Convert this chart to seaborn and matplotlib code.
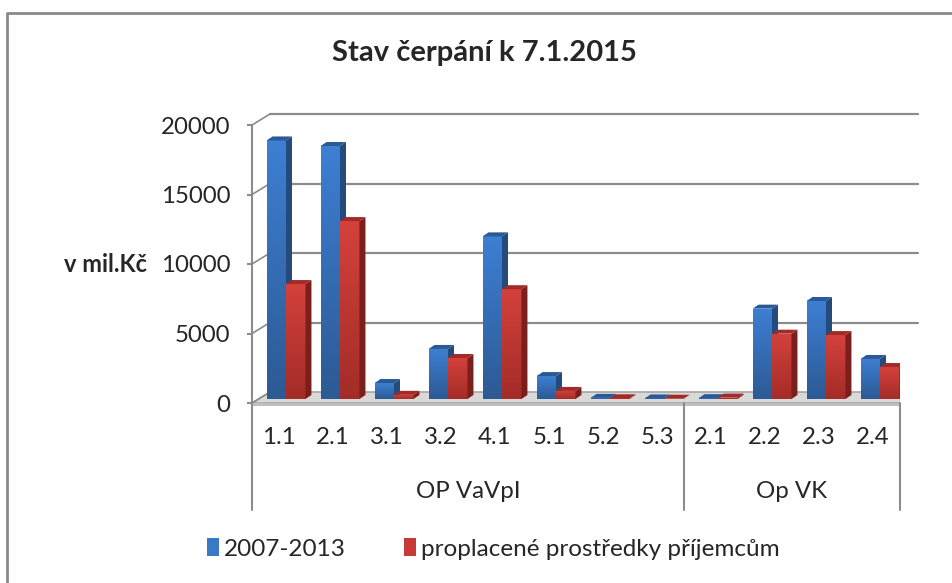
import numpy as np
import pandas as pd
import matplotlib as mpl
import matplotlib.pyplot as plt
import seaborn as sns
from matplotlib.patches import Polygon, Patch
from matplotlib.transforms import offset_copy, IdentityTransform, blended_transform_factory
from matplotlib.colors import LinearSegmentedColormap

# data
groups = ['OP VaVpI'] * 8 + ['Op VK'] * 4
codes = ['1.1', '2.1', '3.1', '3.2', '4.1', '5.1', '5.2', '5.3', '2.1', '2.2', '2.3', '2.4']
total_2007_2013 = [18600, 18200, 1150, 3600, 11700, 1650, 80, 40, 60, 6500, 7050, 2880]
proplaceno = [8270, 12800, 300, 2950, 7900, 580, 50, 20, 100, 4700, 4600, 2300]
series_names = ['2007-2013', 'proplacené prostředky příjemcům']

keys = [g + ' ' + c for g, c in zip(groups, codes)]
df = pd.DataFrame({
    'key': keys * 2,
    'value': total_2007_2013 + proplaceno,
    'series': [series_names[0]] * 12 + [series_names[1]] * 12,
})

sns.set_theme(style='white')
plt.rcParams['font.family'] = ['Lato', 'DejaVu Sans']

fig = plt.figure(figsize=(9.52, 5.83), dpi=100)
ax = fig.add_axes([252 / 952, 1 - 403 / 583, 648 / 952, 278 / 583])

blue = '#3a78c8'
red = '#c83a35'
sns.barplot(data=df, x='key', y='value', hue='series', order=keys,
            palette=[blue, red], width=0.72, saturation=1, legend=False, ax=ax)

ax.set_xlim(-0.5, 11.5)
ax.set_ylim(0, 20000)
for s in ax.spines.values():
    s.set_visible(False)
ax.set_xlabel('')
ax.set_ylabel('')

fs = 17.3
grid_c = '#8c8c8c'
ax.set_yticks([0, 5000, 10000, 15000, 20000])
ax.set_yticklabels(['0', '5000', '10000', '15000', '20000'], fontsize=fs)
ax.tick_params(axis='y', length=3.6, width=1.5, color=grid_c, pad=12, left=True)
ax.set_xticks(range(12))
ax.set_xticklabels(codes, fontsize=fs)
ax.tick_params(axis='x', length=0, pad=17)

# 3D look: offsets in pixels
ox, oy = 7, 4      # bar front face offset
dx, dy = 6, 4      # bar depth
bx, by = 18, 11    # back wall offset

T = ax.transData
ident = IdentityTransform()
x_left, x_right = T.transform((-0.5, 0)), T.transform((11.5, 0))

# floor
ax.add_patch(Polygon([x_left, x_right, x_right + [bx, by], x_left + [bx, by]],
                     closed=True, transform=ident, facecolor='#d9d9d9',
                     edgecolor='#a6a6a6', lw=1.2, zorder=1))
ax.add_patch(Polygon([x_left, x_right, x_right + [0, -3], x_left + [0, -3]],
                     closed=True, transform=ident, facecolor='#bfbfbf',
                     edgecolor='none', zorder=1, clip_on=False))

# back-wall gridlines and left wall diagonals
for yv in [5000, 10000, 15000, 20000]:
    a = T.transform((-0.5, yv))
    b = T.transform((11.5, yv))
    ax.add_line(mpl.lines.Line2D([a[0] + bx, b[0] + bx], [a[1] + by, b[1] + by],
                                 transform=ident, color=grid_c, lw=1.6, zorder=0.5, clip_on=False))
    ax.add_line(mpl.lines.Line2D([a[0], a[0] + bx], [a[1], a[1] + by],
                                 transform=ident, color=grid_c, lw=1.2, zorder=0.5, clip_on=False))
ax.add_line(mpl.lines.Line2D([x_left[0], x_left[0] + bx], [x_left[1], x_left[1] + by],
                             transform=ident, color=grid_c, lw=1.2, zorder=1.2, clip_on=False))

# left axis line and category separators
bt = blended_transform_factory(ax.transData, ax.transAxes)
ax.plot([-0.5, -0.5], [1, -0.385], transform=bt, color=grid_c, lw=1.5, clip_on=False, zorder=2)
for xv in [7.5, 11.5]:
    ax.plot([xv, xv], [0, -0.385], transform=bt, color=grid_c, lw=1.5, clip_on=False, zorder=2)

ax.text(3.5, -0.32, 'OP VaVpI', transform=bt, ha='center', va='center', fontsize=fs)
ax.text(9.5, -0.32, 'Op VK', transform=bt, ha='center', va='center', fontsize=fs)

# shading for bars
faces = {
    blue: (LinearSegmentedColormap.from_list('b', ['#2c5a94', '#3d7fd3']), '#244b7c', '#2a5a96'),
    red: (LinearSegmentedColormap.from_list('r', ['#a42c27', '#d4413c']), '#7a1f1c', '#a32a26'),
}
grad = np.linspace(0, 1, 64).reshape(-1, 1)
front_trans = offset_copy(ax.transData, fig=fig, x=ox, y=oy, units='dots')

bars = sorted(list(ax.patches[:24]), key=lambda p: p.get_x())
for k, p in enumerate(bars):
    col = mpl.colors.to_hex(p.get_facecolor())
    cmap, side_c, top_c = faces[col]
    z = 3 + k * 0.01
    x0, w, h = p.get_x(), p.get_width(), p.get_height()
    p.set_transform(front_trans)
    p.set_edgecolor('none')
    p.set_zorder(z)
    im = ax.imshow(grad, extent=[x0, x0 + w, 0, max(h, 1)], origin='lower',
                   aspect='auto', cmap=cmap, zorder=z + 0.001, interpolation='bilinear')
    im.set_transform(front_trans)
    im.set_clip_path(p)
    a = T.transform((x0, 0)) + [ox, oy]
    b = T.transform((x0 + w, h)) + [ox, oy]
    side = Polygon([(b[0], a[1]), (b[0] + dx, a[1] + dy), (b[0] + dx, b[1] + dy), (b[0], b[1])],
                   closed=True, transform=ident, facecolor=side_c, edgecolor='none', zorder=z + 0.002)
    top = Polygon([(a[0], b[1]), (b[0], b[1]), (b[0] + dx, b[1] + dy), (a[0] + dx, b[1] + dy)],
                  closed=True, transform=ident, facecolor=top_c, edgecolor='none', zorder=z + 0.002)
    ax.add_patch(side)
    ax.add_patch(top)

ax.set_xlim(-0.5, 11.5)
ax.set_ylim(0, 20000)

fig.text(484 / 952, 1 - 53 / 583, 'Stav čerpání k 7.1.2015', ha='center', va='center',
         fontsize=21, fontweight='bold')
fig.text(105 / 952, 1 - 265 / 583, 'v mil.Kč', ha='center', va='center',
         fontsize=17, fontweight='bold')

handles = [Patch(facecolor=blue, edgecolor='none'), Patch(facecolor=red, edgecolor='none')]
fig.legend(handles, series_names, loc='center', bbox_to_anchor=(493 / 952, 1 - 549 / 583),
           ncol=2, frameon=False, fontsize=17.5, handlelength=0.5, handleheight=0.75,
           handletextpad=0.2, columnspacing=2.4)

# chart border (left and top only are visible)
fig.add_artist(mpl.lines.Line2D([7 / 952, 7 / 952, 1], [0, 1 - 13 / 583, 1 - 13 / 583],
                                transform=fig.transFigure, color='#8a8a8a', lw=2))

fig.savefig('out.png', dpi=100)
